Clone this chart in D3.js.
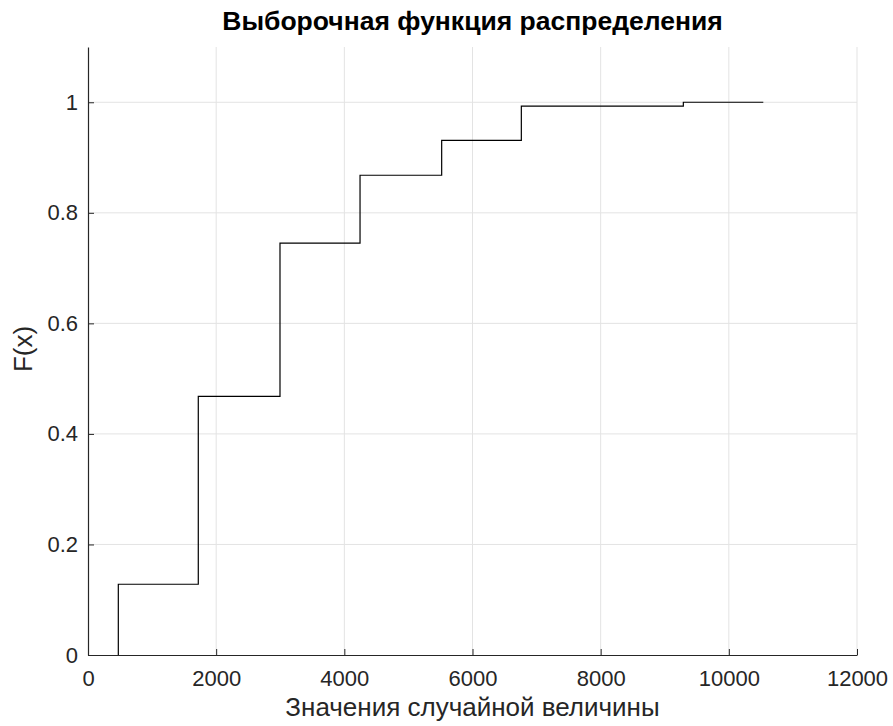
<!DOCTYPE html>
<html>
<head>
<meta charset="utf-8">
<script src="https://cdn.jsdelivr.net/npm/d3@7"></script>
<style>
    body { margin: 0; background: #fff; }
    text { font-family: "Liberation Sans", Arial, sans-serif; }
</style>
</head>
<body>
<div id="chart"></div>
<script>
"use strict";

// step edges of the empirical CDF and the level after each edge
const stepX = [473, 1721, 2996, 4245, 5519, 6762, 9290];
const stepY = [0.128, 0.468, 0.745, 0.868, 0.931, 0.993, 1.0];
const lastX = 10538;
const xTicks = [0, 2000, 4000, 6000, 8000, 10000, 12000];
const yTicks = [0, 0.2, 0.4, 0.6, 0.8, 1];

const margin = { top: 47, right: 36, bottom: 71, left: 88 };
const width = 893 - margin.left - margin.right;
const height = 726 - margin.top - margin.bottom;

const xScale = d3.scaleLinear().domain([0, 12000]).range([0, width]);
const yScale = d3.scaleLinear().domain([0, 1.1]).range([height, 0]);

const svg = d3.select("#chart").append("svg")
              .attr("width", 893)
              .attr("height", 726);
const plot = svg.append("g")
                .attr("transform", `translate(${margin.left}, ${margin.top})`);

// grid
plot.append("g")
    .selectAll("line")
    .data(xTicks.slice(1))
    .join("line")
    .attr("x1", d => xScale(d)).attr("x2", d => xScale(d))
    .attr("y1", 0).attr("y2", height)
    .attr("stroke", "#e3e3e3").attr("stroke-width", 1);
plot.append("g")
    .selectAll("line")
    .data(yTicks.slice(1))
    .join("line")
    .attr("x1", 0).attr("x2", width)
    .attr("y1", d => yScale(d)).attr("y2", d => yScale(d))
    .attr("stroke", "#e3e3e3").attr("stroke-width", 1);

// step line: vertical at each edge, then flat to the next one
const pts = [[stepX[0], 0]];
stepX.forEach((x, i) => {
    pts.push([x, stepY[i]]);
    pts.push([i + 1 < stepX.length ? stepX[i + 1] : lastX, stepY[i]]);
});
const line = d3.line()
               .x(d => xScale(d[0]))
               .y(d => yScale(d[1]));
plot.append("path")
    .datum(pts)
    .attr("d", line)
    .attr("fill", "none")
    .attr("stroke", "#000")
    .attr("stroke-width", 1.2);

// axes, MATLAB style ticks pointing inwards
const xAxis = plot.append("g")
                  .attr("transform", `translate(0, ${height})`)
                  .call(d3.axisBottom(xScale)
                          .tickValues(xTicks)
                          .tickFormat(d3.format("d"))
                          .tickSizeInner(-6).tickSizeOuter(0)
                          .tickPadding(15));
const yAxis = plot.append("g")
                  .call(d3.axisLeft(yScale)
                          .tickValues(yTicks)
                          .tickFormat(d => d === 0 || d === 1 ? d : d.toFixed(1))
                          .tickSizeInner(-6).tickSizeOuter(0)
                          .tickPadding(10));
[xAxis, yAxis].forEach(ax => {
    ax.select(".domain").attr("stroke", "#262626").attr("stroke-width", 1.2);
    ax.selectAll(".tick line").attr("stroke", "#262626");
    ax.selectAll(".tick text")
      .attr("fill", "#262626")
      .style("font-size", "22px");
});

svg.append("text")
   .attr("x", margin.left + width / 2)
   .attr("y", 30)
   .attr("text-anchor", "middle")
   .style("font-size", "26.5px")
   .style("font-weight", "bold")
   .attr("fill", "#000")
   .text("Выборочная функция распределения");

svg.append("text")
   .attr("x", margin.left + width / 2)
   .attr("y", 716)
   .attr("text-anchor", "middle")
   .style("font-size", "26px")
   .attr("fill", "#262626")
   .text("Значения случайной величины");

svg.append("text")
   .attr("transform", `translate(32, 349) rotate(-90)`)
   .attr("text-anchor", "middle")
   .style("font-size", "26px")
   .attr("fill", "#262626")
   .text("F(x)");
</script>
</body>
</html>
